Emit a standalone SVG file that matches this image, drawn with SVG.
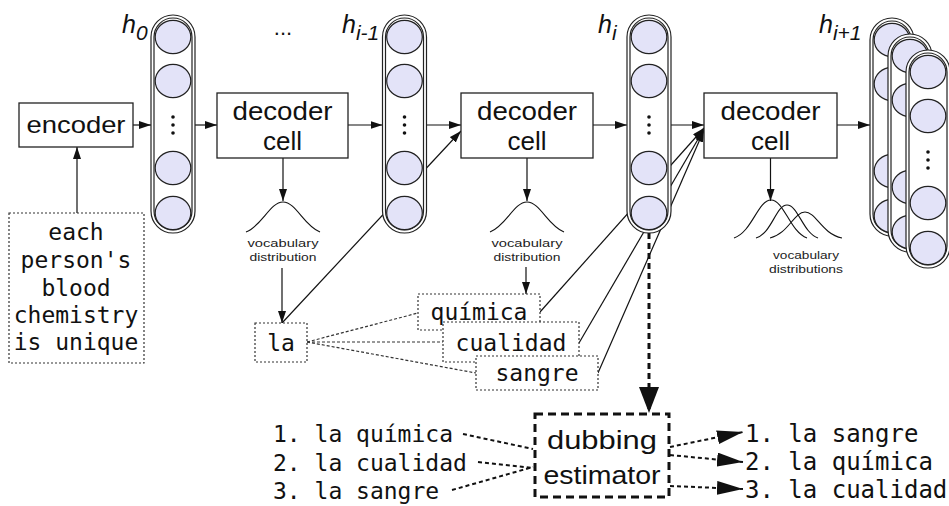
<svg xmlns="http://www.w3.org/2000/svg" width="949" height="506" viewBox="0 0 949 506">
<style>
.sans{font-family:"Liberation Sans",Arial,sans-serif;fill:#111}
.mono{font-family:"DejaVu Sans Mono","Liberation Mono",monospace;font-size:23px;fill:#111}
.lbl{font-family:"Liberation Sans",Arial,sans-serif;font-style:italic;fill:#111}
.voc{font-family:"Liberation Sans",Arial,sans-serif;font-size:11.5px;fill:#222}
.box{fill:#fff;stroke:#222;stroke-width:1.3}
.dbox{fill:#fff;stroke:#333;stroke-width:1.2;stroke-dasharray:2 2}
.ln{fill:none;stroke:#111;stroke-width:1.2}
.dot{fill:none;stroke:#333;stroke-width:1.2;stroke-dasharray:3 2}
.thk{fill:none;stroke:#111;stroke-width:2;stroke-dasharray:4 3}
.bell{fill:none;stroke:#111;stroke-width:1.1}
.pillO{fill:#fff;stroke:#222;stroke-width:1.2}
.pillI{fill:#fff;stroke:#222;stroke-width:1.2}
.cell{fill:#e3e3f8;stroke:#222;stroke-width:1.2}
</style>
<defs>
<marker id="arr" markerWidth="12" markerHeight="8" refX="12" refY="4" orient="auto" markerUnits="userSpaceOnUse"><path d="M0,0 L12,4 L0,8 z" fill="#111"/></marker>
<marker id="big" markerWidth="26" markerHeight="14" refX="26" refY="7" orient="auto" markerUnits="userSpaceOnUse"><path d="M0,0 L26,7 L0,14 z" fill="#111"/></marker>
<marker id="bigv" markerWidth="26" markerHeight="20" refX="26" refY="10" orient="auto" markerUnits="userSpaceOnUse"><path d="M0,0 L26,10 L0,20 z" fill="#111"/></marker>
<g id="col">
<rect x="0" y="0" width="44" height="218" rx="22" class="pillO"/>
<rect x="3" y="3" width="38" height="212" rx="19" class="pillI"/>
<ellipse cx="22" cy="22" rx="17.8" ry="16.7" class="cell"/>
<ellipse cx="22" cy="66" rx="17.8" ry="16.7" class="cell"/>
<ellipse cx="22" cy="153" rx="17.8" ry="16.7" class="cell"/>
<ellipse cx="22" cy="198" rx="17.8" ry="16.7" class="cell"/>
<circle cx="22" cy="102" r="1.8" fill="#111"/>
<circle cx="22" cy="110" r="1.8" fill="#111"/>
<circle cx="22" cy="118" r="1.8" fill="#111"/>
</g>
</defs>
<rect width="949" height="506" fill="#fff"/>

<g id="connectors">
<line x1="77" y1="213" x2="77" y2="147" class="ln" marker-end="url(#arr)"/>
<line x1="133" y1="125" x2="151" y2="125" class="ln" marker-end="url(#arr)"/>
<line x1="195" y1="125" x2="217" y2="125" class="ln" marker-end="url(#arr)"/>
<line x1="348" y1="125" x2="382.5" y2="125" class="ln" marker-end="url(#arr)"/>
<line x1="426.5" y1="125" x2="461" y2="125" class="ln" marker-end="url(#arr)"/>
<line x1="593" y1="125" x2="627" y2="125" class="ln" marker-end="url(#arr)"/>
<line x1="671" y1="125" x2="704" y2="125" class="ln" marker-end="url(#arr)"/>
<line x1="837" y1="125" x2="870" y2="125" class="ln" marker-end="url(#arr)"/>
<line x1="283" y1="158" x2="283" y2="201" class="ln" marker-end="url(#arr)"/>
<line x1="527" y1="158" x2="527" y2="201" class="ln" marker-end="url(#arr)"/>
<line x1="770.5" y1="158" x2="770.5" y2="201" class="ln" marker-end="url(#arr)"/>
<line x1="282" y1="268" x2="282" y2="323" class="ln" marker-end="url(#arr)"/>
<line x1="526" y1="267" x2="526" y2="294" class="ln" marker-end="url(#arr)"/>
<line x1="282" y1="323" x2="461" y2="131" class="ln" marker-end="url(#arr)"/>
<line x1="540" y1="312" x2="704" y2="128" class="ln" marker-end="url(#arr)"/>
<line x1="579" y1="343" x2="704" y2="129" class="ln" marker-end="url(#arr)"/>
<line x1="598" y1="373" x2="704" y2="130" class="ln" marker-end="url(#arr)"/>
<line x1="307" y1="342" x2="418" y2="313" class="dot"/>
<line x1="307" y1="342" x2="443" y2="342" class="dot"/>
<line x1="307" y1="342" x2="476" y2="373" class="dot"/>
<line x1="649" y1="233" x2="649" y2="413" stroke="#111" stroke-width="3" stroke-dasharray="6 4" marker-end="url(#bigv)"/>
<line x1="463" y1="434" x2="533" y2="449" class="thk"/>
<line x1="478" y1="462" x2="533" y2="468" class="thk"/>
<line x1="452" y1="490" x2="533" y2="467" class="thk"/>
<line x1="670" y1="447" x2="743" y2="432" class="thk" marker-end="url(#big)"/>
<line x1="670" y1="455" x2="743" y2="462" class="thk" marker-end="url(#big)"/>
<line x1="670" y1="486" x2="743" y2="489" class="thk" marker-end="url(#big)"/>
</g>

<g id="input">
<rect x="9" y="213" width="135" height="150" class="dbox"/>
<text class="mono" text-anchor="middle"><tspan x="76" y="240">each</tspan><tspan x="76" y="268">person's</tspan><tspan x="76" y="296">blood</tspan><tspan x="76" y="323">chemistry</tspan><tspan x="76" y="350">is unique</tspan></text>
</g>

<g id="encoder">
<rect x="19" y="103" width="114" height="44" class="box"/>
<text x="76" y="133" class="sans" font-size="24" text-anchor="middle" textLength="99" lengthAdjust="spacingAndGlyphs">encoder</text>
</g>

<g id="h0">
<use href="#col" x="151" y="15"/>
<text x="122" y="33" class="lbl" font-size="25">h<tspan font-size="21" dy="7">0</tspan></text>
</g>

<g id="ellipsis">
<text x="283" y="35" class="sans" font-size="22" text-anchor="middle">...</text>
</g>

<g id="decoder1">
<rect x="217" y="93" width="131" height="65" class="box"/>
<text x="282.5" y="120" class="sans" font-size="26" text-anchor="middle" textLength="100" lengthAdjust="spacingAndGlyphs">decoder</text>
<text x="282.5" y="150" class="sans" font-size="26" text-anchor="middle">cell</text>
</g>

<g id="vocab1">
<path d="M246,232 C262,226 270,202 283,202 C296,202 304,226 320,232" class="bell"/>
<text x="283" y="247" class="voc" text-anchor="middle" textLength="71" lengthAdjust="spacingAndGlyphs">vocabulary</text>
<text x="283" y="261" class="voc" text-anchor="middle" textLength="67" lengthAdjust="spacingAndGlyphs">distribution</text>
</g>

<g id="hi-1">
<use href="#col" x="382.5" y="15"/>
<text x="342" y="33" class="lbl" font-size="25">h<tspan font-size="21" dy="7">i-1</tspan></text>
</g>

<g id="la">
<rect x="255" y="323" width="52" height="39" class="dbox"/>
<text x="281" y="351" class="mono" text-anchor="middle">la</text>
</g>

<g id="decoder2">
<rect x="461" y="93" width="132" height="65" class="box"/>
<text x="527" y="120" class="sans" font-size="26" text-anchor="middle" textLength="100" lengthAdjust="spacingAndGlyphs">decoder</text>
<text x="527" y="150" class="sans" font-size="26" text-anchor="middle">cell</text>
</g>

<g id="vocab2">
<path d="M490,232 C506,226 514,202 527,202 C540,202 548,226 564,232" class="bell"/>
<text x="527" y="247" class="voc" text-anchor="middle" textLength="71" lengthAdjust="spacingAndGlyphs">vocabulary</text>
<text x="527" y="261" class="voc" text-anchor="middle" textLength="67" lengthAdjust="spacingAndGlyphs">distribution</text>
</g>

<g id="quimica">
<rect x="418" y="294" width="122" height="36" class="dbox"/>
<text x="479" y="320" class="mono" text-anchor="middle">química</text>
</g>
<g id="cualidad">
<rect x="443" y="322" width="136" height="40" class="dbox"/>
<text x="511" y="351" class="mono" text-anchor="middle">cualidad</text>
</g>
<g id="sangre">
<rect x="476" y="356" width="122" height="34" class="dbox"/>
<text x="537" y="381" class="mono" text-anchor="middle">sangre</text>
</g>

<g id="hi">
<use href="#col" x="627" y="15"/>
<text x="598" y="33" class="lbl" font-size="25">h<tspan font-size="21" dy="7">i</tspan></text>
</g>

<g id="decoder3">
<rect x="704" y="93" width="133" height="65" class="box"/>
<text x="770.5" y="120" class="sans" font-size="26" text-anchor="middle" textLength="100" lengthAdjust="spacingAndGlyphs">decoder</text>
<text x="770.5" y="150" class="sans" font-size="26" text-anchor="middle">cell</text>
</g>

<g id="vocab3">
<path d="M734,238 C752,232 758,200 771,200 C784,200 790,232 807,238" class="bell"/>
<path d="M756,238 C772,233 776,205 787,205 C798,205 803,233 818,238" class="bell"/>
<path d="M770,238 C788,234 794,212 805,212 C816,212 822,234 842,238" class="bell"/>
<text x="806" y="259" class="voc" text-anchor="middle" textLength="66" lengthAdjust="spacingAndGlyphs">vocabulary</text>
<text x="806" y="273" class="voc" text-anchor="middle" textLength="74" lengthAdjust="spacingAndGlyphs">distributions</text>
</g>

<g id="hi+1">
<use href="#col" x="870" y="18"/>
<use href="#col" x="888" y="34"/>
<use href="#col" x="906" y="50"/>
<text x="819" y="33" class="lbl" font-size="25">h<tspan font-size="21" dy="7">i+1</tspan></text>
</g>

<g id="estimator">
<rect x="535" y="414" width="134" height="83" fill="#fff" stroke="#111" stroke-width="3" stroke-dasharray="8 5"/>
<text x="602" y="449" class="sans" font-size="26" text-anchor="middle" textLength="110" lengthAdjust="spacingAndGlyphs">dubbing</text>
<text x="602" y="484" class="sans" font-size="26" text-anchor="middle" textLength="117" lengthAdjust="spacingAndGlyphs">estimator</text>
</g>

<g id="candidates">
<text x="273" y="442" class="mono">1. la química</text>
<text x="273" y="471" class="mono">2. la cualidad</text>
<text x="273" y="499" class="mono">3. la sangre</text>
</g>

<g id="ranked">
<text x="745" y="442" class="mono" font-size="24" style="font-size:24px">1. la sangre</text>
<text x="745" y="470" class="mono" style="font-size:24px">2. la química</text>
<text x="745" y="498" class="mono" style="font-size:24px">3. la cualidad</text>
</g>
</svg>
